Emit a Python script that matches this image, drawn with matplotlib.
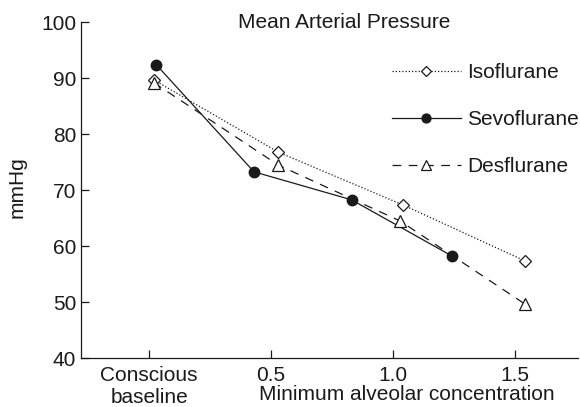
import matplotlib
matplotlib.use("Agg")
import matplotlib.pyplot as plt

plt.rcParams['font.family'] = ['Liberation Sans', 'DejaVu Sans']

# Mean arterial pressure (mmHg) vs. minimum alveolar concentration
iso_x = [0.02, 0.53, 1.04, 1.54]
iso_y = [89.7, 76.8, 67.4, 57.4]
sevo_x = [0.03, 0.43, 0.83, 1.24]
sevo_y = [92.4, 73.3, 68.3, 58.3]
des_x = [0.02, 0.53, 1.03, 1.54]
des_y = [89.2, 74.5, 64.5, 49.7]

xtick_pos = [0.0, 0.5, 1.0, 1.5]
xtick_labels = ["Conscious\nbaseline", "0.5", "1.0", "1.5"]
ytick_pos = [40, 50, 60, 70, 80, 90, 100]

ink = "#1a1a1a"
fs = 15

fig = plt.figure(figsize=(5.8, 4.07), dpi=100)
ax = fig.add_axes([81 / 580, 1 - 358.3 / 407, (578 - 81) / 580, (358.3 - 22.3) / 407])

ax.plot(iso_x, iso_y, linestyle=(0, (1, 1.6)), color=ink, lw=0.9,
        marker='D', markersize=6, markerfacecolor='white', markeredgecolor=ink,
        markeredgewidth=0.9, label="Isoflurane")
ax.plot(sevo_x, sevo_y, linestyle='-', color=ink, lw=0.9,
        marker='o', markersize=7.5, markerfacecolor=ink, markeredgecolor=ink,
        label="Sevoflurane")
ax.plot(des_x, des_y, linestyle=(0, (7, 6)), color=ink, lw=0.9,
        marker='^', markersize=9, markerfacecolor='white', markeredgecolor=ink,
        markeredgewidth=0.9, label="Desflurane")

ax.set_xlim(-0.279, 1.758)
ax.set_ylim(40, 100)
ax.set_yticks(ytick_pos)
ax.set_xticks(xtick_pos)
ax.set_xticklabels(xtick_labels, linespacing=1.2)

for s in ("top", "right"):
    ax.spines[s].set_visible(False)
for s in ("left", "bottom"):
    ax.spines[s].set_color(ink)
    ax.spines[s].set_linewidth(0.9)

ax.tick_params(axis='both', direction='in', length=6, width=0.9, colors=ink,
               labelsize=fs, labelcolor=ink)
ax.tick_params(axis='y', pad=3.5)
ax.tick_params(axis='x', pad=5.5)

fig.text(17 / 580, 1 - 187 / 407, "mmHg", rotation=90, ha='center', va='center',
         fontsize=fs, color=ink)
fig.text(407 / 580, 1 - 395 / 407, "Minimum alveolar concentration",
         ha='center', va='center', fontsize=fs, color=ink)
fig.text(344 / 580, 1 - 22 / 407, "Mean Arterial Pressure",
         ha='center', va='center', fontsize=fs, color=ink)

leg = ax.legend(loc='upper left', frameon=False,
                fontsize=fs, handlelength=3.3, handletextpad=0.3, labelspacing=1.35,
                numpoints=1, markerscale=0.85, borderaxespad=0, borderpad=0)
leg.set_bbox_to_anchor((392 / 580, 1 - 63 / 407), transform=fig.transFigure)
for t in leg.get_texts():
    t.set_color(ink)

fig.savefig("out.png", dpi=100)
